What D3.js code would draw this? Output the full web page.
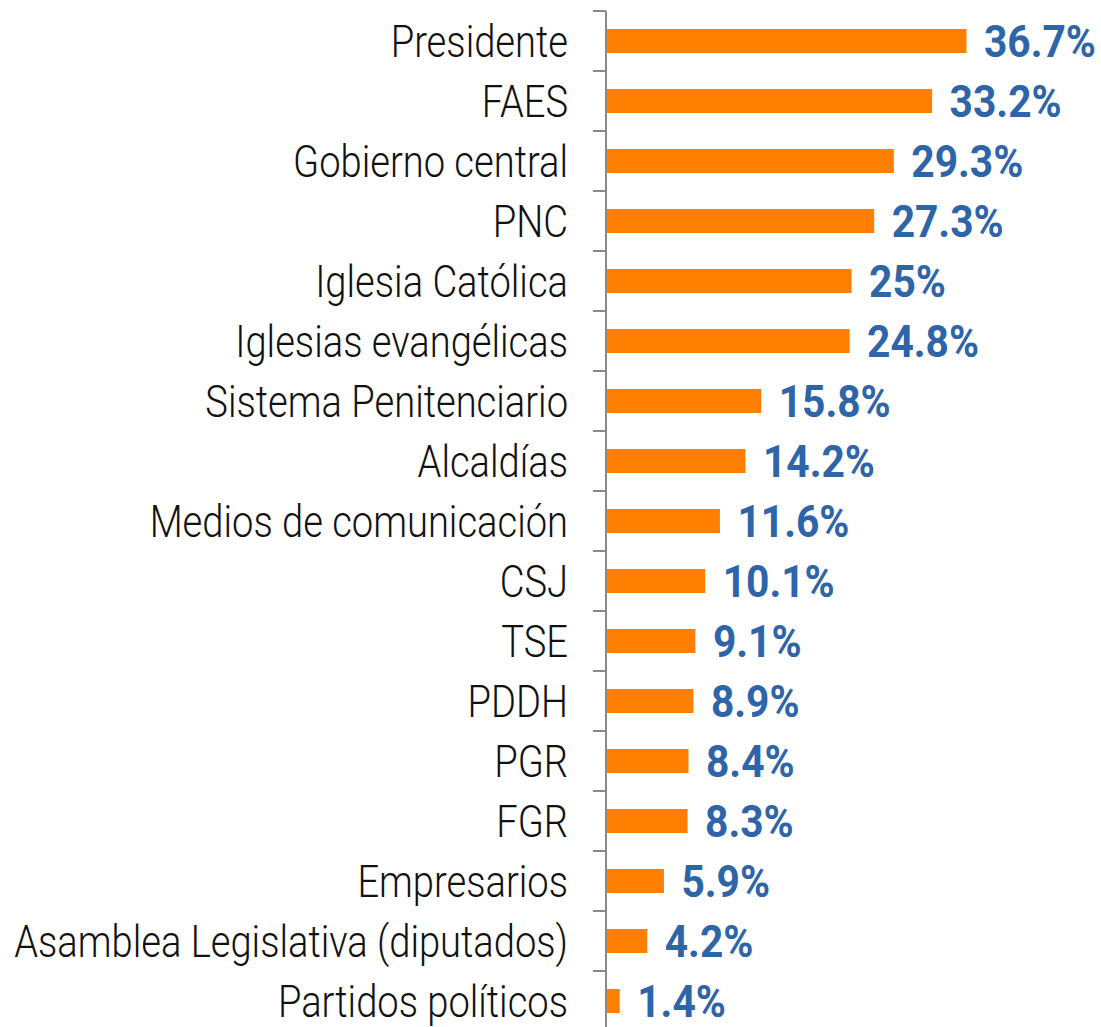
<!DOCTYPE html>
<html lang='es'>
<head>
<meta http-equiv='Content-Type' content='text/html;charset=utf-8'/>
<title>Confianza en instituciones</title>
<script src='https://d3js.org/d3.v7.min.js'></script>
<style>
  html, body { margin: 0; padding: 0; background: #ffffff; }
  svg { display: block; }
</style>
</head>
<body>
<script>
'use strict'
const categories = ['Presidente', 'FAES', 'Gobierno central', 'PNC', 'Iglesia Católica',
  'Iglesias evangélicas', 'Sistema Penitenciario', 'Alcaldías', 'Medios de comunicación',
  'CSJ', 'TSE', 'PDDH', 'PGR', 'FGR', 'Empresarios', 'Asamblea Legislativa (diputados)',
  'Partidos políticos']
const values = [36.7, 33.2, 29.3, 27.3, 25, 24.8, 15.8, 14.2, 11.6, 10.1, 9.1, 8.9, 8.4, 8.3, 5.9, 4.2, 1.4]
const valueLabels = ['36.7%', '33.2%', '29.3%', '27.3%', '25%', '24.8%', '15.8%', '14.2%', '11.6%',
  '10.1%', '9.1%', '8.9%', '8.4%', '8.3%', '5.9%', '4.2%', '1.4%']

const width = 1101
const height = 1027
const axisX = 606

const svg = d3.select('body').append('svg')
  .attr('width', width)
  .attr('height', height)

svg.append('rect')
  .attr('width', '100%')
  .attr('height', '100%')
  .attr('fill', '#ffffff')

const x = d3.scaleLinear()
  .domain([0, 36.7])
  .range([axisX, 966.5])

const y = d3.scaleBand()
  .domain(categories)
  .range([11, 1031])
  .paddingInner(0.6)
  .paddingOuter(0.3)

const step = y.step()

// bars
svg.selectAll('rect.bar')
  .data(values)
  .enter().append('rect')
  .attr('class', 'bar')
  .attr('x', x(0))
  .attr('y', function(d, i) { return y(categories[i]) })
  .attr('width', function(d) { return x(d) - x(0) })
  .attr('height', y.bandwidth())
  .attr('fill', '#ff8000')

// axis line and boundary ticks
const boundaries = categories.map(function(c) { return y(c) - step * 0.3 })
boundaries.push(boundaries[boundaries.length - 1] + step)

svg.append('line')
  .attr('x1', axisX).attr('x2', axisX)
  .attr('y1', boundaries[0]).attr('y2', height)
  .attr('stroke', '#8a8a8a')
  .attr('stroke-width', 2)

svg.selectAll('line.tick')
  .data(boundaries)
  .enter().append('line')
  .attr('class', 'tick')
  .attr('x1', axisX - 13).attr('x2', axisX)
  .attr('y1', function(d) { return d }).attr('y2', function(d) { return d })
  .attr('stroke', '#8a8a8a')
  .attr('stroke-width', 2)

// category labels (condensed by a uniform horizontal scale)
const catGroups = svg.selectAll('g.cat')
  .data(categories)
  .enter().append('g')
  .attr('class', 'cat')

const catText = catGroups.append('text')
  .attr('text-anchor', 'end')
  .attr('font-family', 'Roboto, sans-serif')
  .attr('font-weight', 300)
  .attr('font-size', 45)
  .attr('fill', '#111111')
  .text(function(d) { return d })

const longest = catText.filter(function(d) { return d === 'Asamblea Legislativa (diputados)' }).node()
const catScale = 554 / longest.getComputedTextLength()
catGroups.attr('transform', function(d) {
  return 'translate(568,' + (y(d) + y.bandwidth() / 2 + 15.5) + ') scale(' + catScale + ',1)'
})

// value labels
const valGroups = svg.selectAll('g.val')
  .data(values)
  .enter().append('g')
  .attr('class', 'val')

const valText = valGroups.append('text')
  .attr('font-family', 'Roboto, sans-serif')
  .attr('font-weight', 700)
  .attr('font-size', 44)
  .attr('fill', '#2e64a8')
  .text(function(d, i) { return valueLabels[i] })

const valScale = 112 / valText.filter(function(d, i) { return i === 0 }).node().getComputedTextLength()
valGroups.attr('transform', function(d, i) {
  return 'translate(' + (x(d) + 17.5) + ',' + (y(categories[i]) + y.bandwidth() / 2 + 15.5) + ') scale(' + valScale + ',1)'
})
</script>
</body>
</html>
